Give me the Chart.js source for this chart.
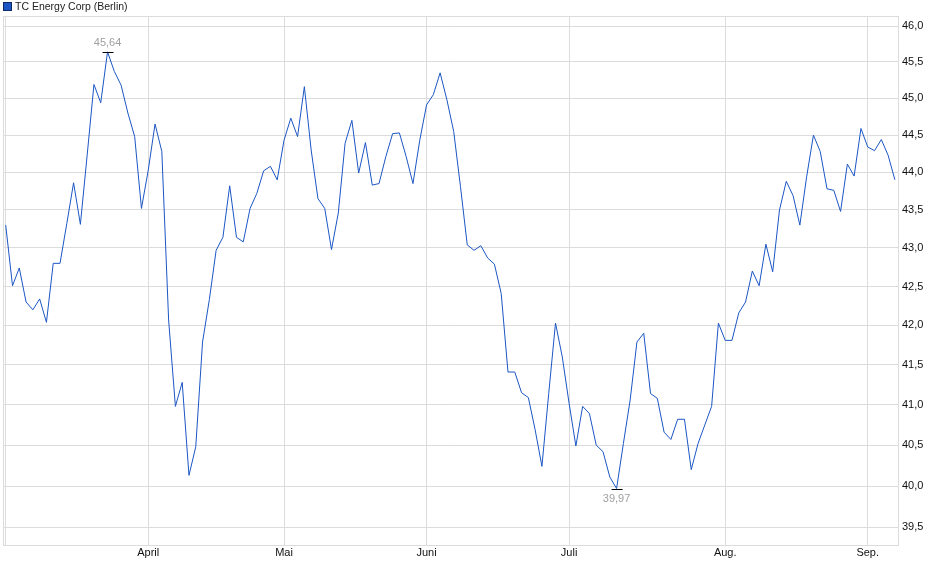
<!DOCTYPE html>
<html>
<head>
<meta charset="utf-8">
<script src="https://cdn.jsdelivr.net/npm/chart.js@4.4.1/dist/chart.umd.min.js"></script>
<style>
  html, body { margin: 0; padding: 0; background: #ffffff; }
  canvas { display: block; }
</style>
</head>
<body>
<canvas id="c" width="940" height="579"></canvas>
<script>
// ---- data (one value per trading day, March - early September) ----
const seriesName = 'TC Energy Corp (Berlin)';
const prices = [
  43.30, 42.51, 42.74, 42.30, 42.20, 42.34, 42.04, 42.80, 42.80, 43.32,
  43.86, 43.31, 44.23, 45.19, 44.94, 45.64, 45.37, 45.18, 44.80, 44.48,
  43.52, 44.03, 44.65, 44.28, 42.07, 40.98, 41.28, 40.13, 40.48, 41.79,
  42.33, 42.97, 43.14, 43.82, 43.14, 43.08, 43.52, 43.72, 44.02, 44.08,
  43.90, 44.43, 44.73, 44.48, 45.16, 44.30, 43.65, 43.52, 42.98, 43.46,
  44.39, 44.70, 43.99, 44.40, 43.83, 43.85, 44.21, 44.52, 44.53, 44.21,
  43.85, 44.43, 44.91, 45.05, 45.35, 44.98, 44.55, 43.81, 43.04, 42.97,
  43.03, 42.87, 42.79, 42.41, 41.41, 41.41, 41.15, 41.09, 40.69, 40.24,
  41.14, 42.03, 41.60, 41.02, 40.49, 40.98, 40.89, 40.50, 40.42, 40.11,
  39.97, 40.52, 41.06, 41.79, 41.90, 41.14, 41.08, 40.66, 40.57, 40.82,
  40.82, 40.20, 40.52, 40.75, 40.98, 42.03, 41.81, 41.81, 42.16, 42.30,
  42.70, 42.51, 43.05, 42.69, 43.50, 43.88, 43.69, 43.30, 43.94, 44.50,
  44.28, 43.78, 43.76, 43.48, 44.11, 43.95, 44.59, 44.34, 44.29, 44.44,
  44.23, 43.90
];
const monthTickIndex = [0, 21, 41, 62, 83, 106, 127];
const monthLabels    = ['', 'April', 'Mai', 'Juni', 'Juli', 'Aug.', 'Sep.'];
const priceTicks = [39.5, 40.0, 40.5, 41.0, 41.5, 42.0, 42.5, 43.0, 43.5, 44.0, 44.5, 45.0, 45.5, 46.0];
const yMin = 39.29, yMax = 46.14;
const xMin = -0.4, xMax = 131.46;

const points = prices.map((v, i) => ({ x: i, y: v }));

const FONT = '"Liberation Sans", Arial, sans-serif';
const lineColor = '#1b56c4';
const gridColor = '#dcdcdc';

const fmt = v => v.toFixed(2).replace('.', ',');

const decorPlugin = {
  id: 'decor',
  afterDraw(chart) {
    const ctx = chart.ctx;
    const a = chart.chartArea;
    const xs = chart.scales.x, ys = chart.scales.y;
    ctx.save();
    // top and left frame lines
    ctx.strokeStyle = gridColor;
    ctx.lineWidth = 1;
    ctx.beginPath();
    ctx.moveTo(a.left, Math.round(a.top) + 0.5);
    ctx.lineTo(a.right, Math.round(a.top) + 0.5);
    ctx.moveTo(Math.round(a.left) + 0.5, a.top);
    ctx.lineTo(Math.round(a.left) + 0.5, a.bottom);
    ctx.stroke();

    // legend
    ctx.fillStyle = lineColor;
    ctx.fillRect(3, 2, 8, 8);
    ctx.strokeStyle = '#0d2a66';
    ctx.strokeRect(3.5, 2.5, 8, 8);
    ctx.fillStyle = '#222222';
    ctx.font = '10.5px ' + FONT;
    ctx.textBaseline = 'middle';
    ctx.textAlign = 'left';
    ctx.fillText(seriesName, 15, 7);

    // max / min markers
    let iMax = 0, iMin = 0;
    prices.forEach((v, i) => { if (v > prices[iMax]) iMax = i; if (v < prices[iMin]) iMin = i; });
    const mark = (i, above) => {
      const px = xs.getPixelForValue(i);
      const py = ys.getPixelForValue(prices[i]);
      ctx.strokeStyle = '#000000';
      ctx.lineWidth = 1;
      ctx.beginPath();
      ctx.moveTo(px - 5, Math.round(py) + 0.5);
      ctx.lineTo(px + 6, Math.round(py) + 0.5);
      ctx.stroke();
      ctx.fillStyle = '#a0a0a0';
      ctx.font = '11px ' + FONT;
      ctx.textAlign = 'center';
      ctx.textBaseline = 'middle';
      ctx.fillText(fmt(prices[i]), px, above ? py - 9 : py + 10);
    };
    mark(iMax, true);
    mark(iMin, false);
    ctx.restore();
  }
};

new Chart(document.getElementById('c'), {
  type: 'line',
  data: {
    datasets: [{
      label: seriesName,
      data: points,
      borderColor: lineColor,
      backgroundColor: lineColor,
      borderWidth: 1,
      pointRadius: 0,
      tension: 0,
      fill: false
    }]
  },
  options: {
    responsive: false,
    animation: false,
    devicePixelRatio: 1,
    layout: { padding: { left: 3, top: 16, right: 0, bottom: 0 } },
    plugins: { legend: { display: false }, tooltip: { enabled: false } },
    scales: {
      x: {
        type: 'linear',
        min: xMin,
        max: xMax,
        afterFit(s) { s.height = 34; },
        afterBuildTicks(s) { s.ticks = monthTickIndex.map(v => ({ value: v })); },
        grid: { color: gridColor, drawTicks: false, lineWidth: 1 },
        border: { color: gridColor },
        ticks: {
          autoSkip: false,
          maxRotation: 0,
          padding: 1,
          color: '#111111',
          font: { family: FONT, size: 11 },
          callback(value) {
            const k = monthTickIndex.indexOf(value);
            return k >= 0 ? monthLabels[k] : '';
          }
        }
      },
      y: {
        type: 'logarithmic',
        position: 'right',
        min: yMin,
        max: yMax,
        afterFit(s) { s.width = 42; },
        afterBuildTicks(s) { s.ticks = priceTicks.map(v => ({ value: v })); },
        grid: { color: gridColor, drawTicks: false, lineWidth: 1 },
        border: { color: gridColor },
        ticks: {
          padding: 4,
          color: '#111111',
          font: { family: FONT, size: 11 },
          callback(value) { return Number(value).toFixed(1).replace('.', ','); }
        }
      }
    }
  },
  plugins: [decorPlugin]
});
</script>
</body>
</html>
